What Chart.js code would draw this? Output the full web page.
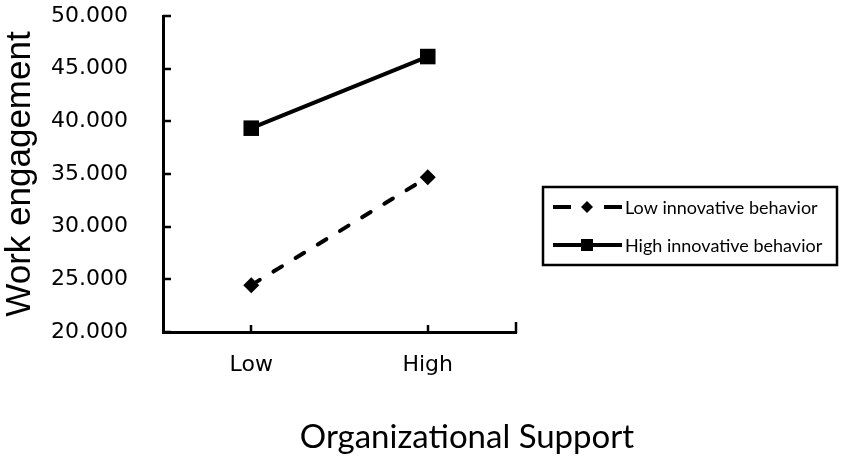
<!DOCTYPE html>
<html>
<head>
<meta charset="utf-8">
<script src="https://cdn.jsdelivr.net/npm/chart.js@4/dist/chart.umd.min.js"></script>
<style>
  html, body { margin: 0; padding: 0; background: #fff; }
  #wrap { position: relative; width: 842px; height: 462px; }
</style>
</head>
<body>
<div id="wrap"><canvas id="chart" width="842" height="462"></canvas></div>
<script>
// data
const categories = ["Low", "High"];
const lowInnovative = [24.45, 34.7];
const highInnovative = [39.35, 46.15];
const seriesNames = ["Low innovative behavior", "High innovative behavior"];
const yTicks = [20, 25, 30, 35, 40, 45, 50];
const xTitle = "Organizational Support";
const yTitle = "Work engagement";

// Excel style ticks pointing into the plot
const inwardTicks = {
  id: "inwardTicks",
  afterDraw(chart) {
    const { ctx, chartArea: a, scales: { x, y } } = chart;
    ctx.save();
    ctx.strokeStyle = "#000";
    ctx.lineWidth = 2.5;
    ctx.beginPath();
    y.ticks.forEach((t, i) => {
      const py = Math.round(y.getPixelForTick(i));
      ctx.moveTo(a.left, py); ctx.lineTo(a.left + 8, py);
    });
    x.ticks.forEach((t, i) => {
      const px = Math.round(x.getPixelForTick(i));
      ctx.moveTo(px, a.bottom); ctx.lineTo(px, a.bottom - 7);
    });
    ctx.moveTo(a.right, a.bottom + 1); ctx.lineTo(a.right, a.bottom - 10);
    ctx.stroke();
    ctx.restore();
  }
};

// x axis title sits off-centre in the reference
const xTitlePlugin = {
  id: "xTitlePlugin",
  afterDraw(chart) {
    const ctx = chart.ctx;
    ctx.save();
    ctx.font = "33px Lato";
    ctx.fillStyle = "#000";
    ctx.textAlign = "center";
    ctx.textBaseline = "middle";
    ctx.fillText(xTitle, 467, 437);
    ctx.restore();
  }
};

// boxed legend on the right
const boxLegend = {
  id: "boxLegend",
  afterDraw(chart) {
    const ctx = chart.ctx;
    const bx = 543, by = 187, bw = 294, bh = 78;
    ctx.save();
    ctx.strokeStyle = "#000";
    ctx.lineWidth = 2.5;
    ctx.strokeRect(bx, by, bw, bh);
    const rows = [207, 245];
    chart.data.datasets.forEach((ds, i) => {
      const yy = rows[i];
      ctx.strokeStyle = "#000";
      ctx.lineWidth = 4;
      ctx.beginPath();
      if (ds.borderDash && ds.borderDash.length) {
        ctx.moveTo(553, yy); ctx.lineTo(571, yy);
        ctx.moveTo(604, yy); ctx.lineTo(622, yy);
      } else {
        ctx.moveTo(553, yy); ctx.lineTo(622, yy);
      }
      ctx.stroke();
      ctx.fillStyle = "#000";
      ctx.beginPath();
      if (ds.pointStyle === "rectRot") {
        ctx.moveTo(587, yy - 6); ctx.lineTo(593, yy); ctx.lineTo(587, yy + 6); ctx.lineTo(581, yy);
        ctx.closePath();
      } else {
        ctx.rect(581, yy - 6, 12, 12);
      }
      ctx.fill();
      ctx.font = "18px Lato";
      ctx.textAlign = "left";
      ctx.textBaseline = "middle";
      ctx.fillText(ds.label, 625, yy + 1);
    });
    ctx.restore();
  }
};

new Chart(document.getElementById("chart"), {
  type: "line",
  data: {
    labels: categories,
    datasets: [
      {
        label: seriesNames[0],
        data: lowInnovative,
        borderColor: "#000",
        borderWidth: 4,
        borderDash: [10, 16],
        borderCapStyle: "round",
        pointStyle: "rectRot",
        pointRadius: 8,
        pointBackgroundColor: "#000",
        pointBorderWidth: 0,
        tension: 0
      },
      {
        label: seriesNames[1],
        data: highInnovative,
        borderColor: "#000",
        borderWidth: 4,
        pointStyle: "rect",
        pointRadius: 11,
        pointBackgroundColor: "#000",
        pointBorderWidth: 0,
        tension: 0
      }
    ]
  },
  options: {
    responsive: false,
    animation: false,
    layout: { padding: { top: 16, right: 326, bottom: 0, left: 0 } },
    plugins: { legend: { display: false }, tooltip: { enabled: false } },
    scales: {
      x: {
        offset: true,
        grid: { display: true, drawOnChartArea: false, drawTicks: false, color: "#000" },
        border: { display: true, color: "#000", width: 3 },
        ticks: { color: "#000", padding: 20, font: { family: "DejaVu Sans", size: 22 } },
        afterFit(scale) {
          scale.height = 130;
          scale.paddingLeft = 0; scale.paddingRight = 0;
        }
      },
      y: {
        min: 20,
        max: 50,
        afterBuildTicks(scale) { scale.ticks = yTicks.map(v => ({ value: v })); },
        grid: { display: true, drawOnChartArea: false, drawTicks: false, color: "#000" },
        border: { display: true, color: "#000", width: 3 },
        ticks: {
          color: "#000",
          padding: 35,
          font: { family: "DejaVu Sans", size: 22 },
          callback: v => Number(v).toFixed(3)
        },
        title: {
          display: true,
          text: yTitle,
          color: "#000",
          padding: { top: 0, bottom: 0 },
          font: { family: "Liberation Sans", size: 35, lineHeight: 1.15 }
        },
        afterFit(scale) {
          scale.width = 163;
          scale.paddingTop = 0; scale.paddingBottom = 0;
        }
      }
    }
  },
  plugins: [inwardTicks, xTitlePlugin, boxLegend]
});
</script>
</body>
</html>
